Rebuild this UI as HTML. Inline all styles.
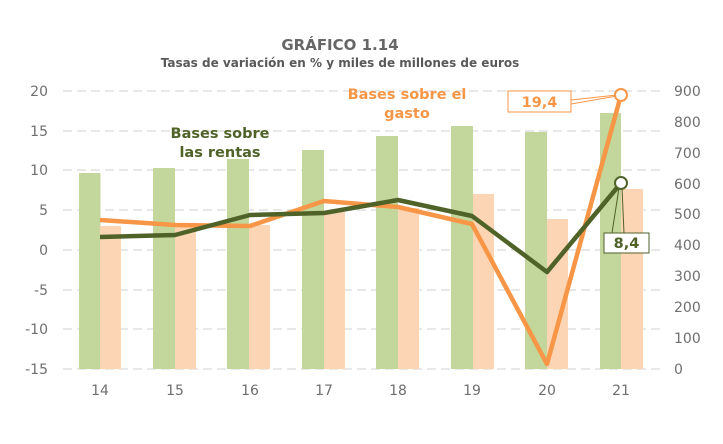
<!DOCTYPE html>
<html><head><meta charset="utf-8"><style>
body{margin:0;background:#fff;}
svg text{font-family:"DejaVu Sans","Liberation Sans",sans-serif;}
</style></head><body>
<svg width="723" height="439" viewBox="0 0 723 439" xmlns="http://www.w3.org/2000/svg">
<rect width="723" height="439" fill="#fff"/>
<text x="340" y="50" text-anchor="middle" font-size="15" font-weight="bold" fill="#666">GRÁFICO 1.14</text>
<text x="340" y="67" text-anchor="middle" font-size="12" fill="#595959" font-weight="bold">Tasas de variación en % y miles de millones de euros</text>
<g stroke="#d9d9d9" stroke-width="1.3" stroke-dasharray="9,5">
<line x1="63" x2="660" y1="91" y2="91"/><line x1="63" x2="660" y1="131" y2="131"/>
<line x1="63" x2="660" y1="170" y2="170"/><line x1="63" x2="660" y1="210" y2="210"/>
<line x1="63" x2="660" y1="250" y2="250"/><line x1="63" x2="660" y1="290" y2="290"/>
<line x1="63" x2="660" y1="329" y2="329"/><line x1="63" x2="660" y1="369" y2="369"/>
</g>
<g fill="#c3d69b">
<rect x="79" y="173" width="21.5" height="196"/><rect x="153" y="168" width="22" height="201"/>
<rect x="227" y="159" width="22" height="210"/><rect x="302" y="150" width="22" height="219"/>
<rect x="376" y="136" width="22" height="233"/><rect x="451" y="126" width="22" height="243"/>
<rect x="525" y="132" width="22" height="237"/><rect x="600" y="113" width="21" height="256"/>
</g>
<g fill="#fcd5b4">
<rect x="100" y="226" width="21" height="143"/><rect x="175" y="225" width="21" height="144"/>
<rect x="249" y="225" width="21" height="144"/><rect x="324" y="212" width="21" height="157"/>
<rect x="398" y="208" width="21" height="161"/><rect x="473" y="194" width="21" height="175"/>
<rect x="547" y="219" width="21" height="150"/><rect x="621" y="189" width="22" height="180"/>
</g>
<g font-size="14" fill="#6f6f6f" text-anchor="end">
<text x="48" y="96">20</text><text x="48" y="136">15</text><text x="48" y="175">10</text>
<text x="48" y="215">5</text><text x="48" y="255">0</text><text x="48" y="295">-5</text>
<text x="48" y="334">-10</text><text x="48" y="374">-15</text>
</g>
<g font-size="14" fill="#6f6f6f" text-anchor="start">
<text x="674" y="96">900</text><text x="674" y="127">800</text><text x="674" y="158">700</text>
<text x="674" y="189">600</text><text x="674" y="219">500</text><text x="674" y="250">400</text>
<text x="674" y="281">300</text><text x="674" y="312">200</text><text x="674" y="343">100</text>
<text x="674" y="374">0</text>
</g>
<g font-size="14" fill="#6f6f6f" text-anchor="middle">
<text x="100" y="395">14</text><text x="175" y="395">15</text><text x="250" y="395">16</text>
<text x="324" y="395">17</text><text x="398" y="395">18</text><text x="472" y="395">19</text>
<text x="547" y="395">20</text><text x="621" y="395">21</text>
</g>
<polyline fill="none" stroke="#f79646" stroke-width="4.5" stroke-linejoin="round" points="100,220 175,225 250,226 324,201 398,207 472,224 547,364 621,95"/>
<polyline fill="none" stroke="#4f6228" stroke-width="4.5" stroke-linejoin="round" points="100,237 175,235 250,215 324,213 398,200 472,216 547,272 621,183"/>
<line x1="571" y1="100" x2="617" y2="95" stroke="#f79646" stroke-width="1"/>
<line x1="571" y1="104" x2="617" y2="96" stroke="#f79646" stroke-width="1"/>
<circle cx="621" cy="95" r="6" fill="#fff" stroke="#f79646" stroke-width="2"/>
<line x1="619" y1="188" x2="612" y2="233" stroke="#4f6228" stroke-width="1"/>
<line x1="622" y1="188" x2="624" y2="233" stroke="#4f6228" stroke-width="1"/>
<circle cx="621" cy="183" r="6" fill="#fff" stroke="#4f6228" stroke-width="2"/>
<rect x="508" y="91" width="63" height="21" fill="#fff" stroke="#f79646" stroke-width="1"/>
<text x="539.5" y="107" text-anchor="middle" font-size="14.5" font-weight="bold" fill="#f79646">19,4</text>
<rect x="604" y="233" width="45" height="20" fill="#fff" stroke="#4f6228" stroke-width="1"/>
<text x="626.5" y="248" text-anchor="middle" font-size="14.5" font-weight="bold" fill="#4f6228">8,4</text>
<g font-size="14.5" font-weight="bold" fill="#4f6228" text-anchor="middle">
<text x="220" y="138">Bases sobre</text><text x="220" y="157">las rentas</text>
</g>
<g font-size="14.5" font-weight="bold" fill="#f79646" text-anchor="middle">
<text x="407" y="99">Bases sobre el</text><text x="407" y="118">gasto</text>
</g>
</svg>
</body></html>
